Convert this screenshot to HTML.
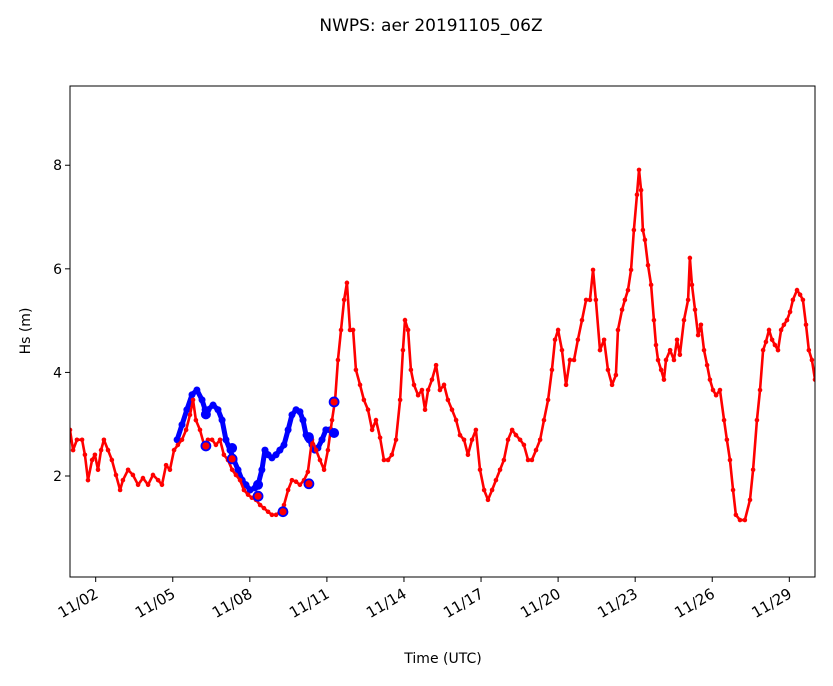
<!DOCTYPE html>
<html><head><meta charset="utf-8"><style>
body{margin:0;background:#fff;}
svg text{font-family:"DejaVu Sans","Liberation Sans",sans-serif;fill:#000;}
</style></head><body>
<svg id="chart" width="833" height="681">
<text x="431" y="31" font-size="17" text-anchor="middle">NWPS: aer 20191105_06Z</text>
<text x="443" y="663" font-size="14" text-anchor="middle">Time (UTC)</text>
<text transform="translate(30,331) rotate(-90)" font-size="14" text-anchor="middle">Hs (m)</text>
<g id="plot"></g>
</svg>
<script>
const modelDays=[0,.12,.27,.47,.58,.70,.86,.97,1.09,1.21,1.32,1.48,1.63,1.79,1.95,2.06,2.26,2.45,2.65,2.84,3.04,3.23,3.43,3.58,3.74,3.89,4.05,4.20,4.36,4.52,4.67,4.79,4.90,5.06,5.22,5.37,5.53,5.68,5.84,5.99,6.15,6.31,6.46,6.62,6.77,6.93,7.08,7.24,7.40,7.55,7.71,7.86,8.02,8.17,8.33,8.49,8.64,8.80,8.95,9.11,9.26,9.42,9.58,9.73,9.89,10.04,10.20,10.32,10.43,10.55,10.67,10.78,10.90,11.02,11.13,11.29,11.44,11.60,11.76,11.91,12.07,12.22,12.38,12.53,12.69,12.85,12.96,13.04,13.16,13.27,13.39,13.55,13.70,13.82,13.94,14.09,14.25,14.40,14.56,14.71,14.87,15.03,15.18,15.34,15.49,15.65,15.80,15.96,16.12,16.27,16.43,16.58,16.74,16.89,17.05,17.21,17.36,17.52,17.67,17.83,17.98,18.14,18.30,18.45,18.61,18.76,18.88,19.00,19.15,19.31,19.46,19.62,19.77,19.93,20.09,20.24,20.36,20.47,20.63,20.79,20.94,21.10,21.25,21.33,21.49,21.60,21.72,21.84,21.95,22.07,22.15,22.23,22.30,22.38,22.50,22.62,22.73,22.81,22.89,23.01,23.12,23.20,23.36,23.51,23.63,23.74,23.90,24.06,24.13,24.21,24.33,24.45,24.56,24.68,24.80,24.91,25.03,25.15,25.30,25.46,25.57,25.69,25.81,25.92,26.08,26.27,26.47,26.59,26.74,26.86,26.98,27.09,27.21,27.33,27.44,27.56,27.68,27.79,27.91,28.03,28.14,28.30,28.42,28.53,28.65,28.76,28.88,29.00];
const modelHs=[2.89,2.50,2.70,2.70,2.41,1.92,2.31,2.41,2.12,2.50,2.70,2.50,2.31,2.02,1.73,1.92,2.12,2.02,1.83,1.96,1.83,2.02,1.92,1.83,2.21,2.12,2.50,2.60,2.70,2.89,3.18,3.47,3.08,2.89,2.60,2.70,2.70,2.60,2.70,2.41,2.31,2.12,2.02,1.92,1.73,1.64,1.58,1.54,1.44,1.38,1.31,1.25,1.25,1.31,1.44,1.73,1.92,1.89,1.83,1.92,2.08,2.70,2.50,2.31,2.12,2.50,3.08,3.47,4.24,4.82,5.40,5.73,4.82,4.82,4.05,3.76,3.47,3.28,2.89,3.08,2.74,2.31,2.31,2.41,2.70,3.47,4.43,5.01,4.82,4.05,3.76,3.56,3.66,3.28,3.66,3.86,4.14,3.66,3.76,3.47,3.28,3.08,2.79,2.70,2.41,2.70,2.89,2.12,1.73,1.54,1.73,1.92,2.12,2.31,2.70,2.89,2.79,2.70,2.60,2.31,2.31,2.50,2.70,3.08,3.47,4.05,4.63,4.82,4.43,3.76,4.24,4.24,4.63,5.01,5.40,5.40,5.98,5.40,4.43,4.63,4.05,3.76,3.95,4.82,5.21,5.40,5.59,5.98,6.75,7.43,7.91,7.52,6.75,6.56,6.07,5.69,5.01,4.53,4.24,4.05,3.86,4.24,4.43,4.24,4.63,4.34,5.01,5.40,6.21,5.69,5.21,4.72,4.92,4.43,4.14,3.86,3.66,3.56,3.66,3.08,2.70,2.31,1.73,1.25,1.15,1.15,1.54,2.12,3.08,3.66,4.43,4.59,4.82,4.63,4.53,4.43,4.82,4.92,5.01,5.17,5.40,5.59,5.50,5.40,4.92,4.43,4.24,3.86];
const altDays=[4.17,4.36,4.55,4.75,4.94,5.14,5.26,5.37,5.57,5.76,5.92,6.07,6.23,6.38,6.54,6.70,6.85,7.01,7.20,7.32,7.47,7.59,7.71,7.86,8.02,8.17,8.33,8.49,8.64,8.80,8.95,9.07,9.19,9.30,9.42,9.53,9.65,9.81,9.96,10.12,10.28];
const altHs=[2.70,2.99,3.28,3.57,3.66,3.47,3.28,3.28,3.37,3.28,3.08,2.70,2.50,2.31,2.12,1.92,1.83,1.73,1.77,1.83,2.12,2.50,2.41,2.35,2.41,2.50,2.60,2.89,3.18,3.28,3.24,3.08,2.79,2.70,2.60,2.50,2.54,2.70,2.89,2.89,2.85];
const obsDays=[5.29,6.31,7.32,8.29,9.30,10.28];
const obsHs=[2.58,2.33,1.61,1.31,1.85,3.43];
const altObsDays=[5.29,6.31,7.32,9.30,10.28];
const altObsHs=[3.19,2.54,1.83,2.75,2.83];
const yTicks=[2,4,6,8];
const xTickDays=[1,4,7,10,13,16,19,22,25,28];
const xTickLabels=["11/02","11/05","11/08","11/11","11/14","11/17","11/20","11/23","11/26","11/29"];

const L=70,R=815,T=86,B=577, X0=0,X1=29, Y0=0.05,Y1=9.53;
const xs=d=>L+(d-X0)/(X1-X0)*(R-L);
const ys=v=>B-(v-Y0)/(Y1-Y0)*(B-T);
const NS="http://www.w3.org/2000/svg";
const g=document.getElementById('plot');
function mk(t,a){const e=document.createElementNS(NS,t);for(const k in a)e.setAttribute(k,a[k]);g.appendChild(e);return e;}
const clip=document.createElementNS(NS,'clipPath');clip.id='c';
const cr=document.createElementNS(NS,'rect');cr.setAttribute('x',L);cr.setAttribute('y',T);cr.setAttribute('width',R-L);cr.setAttribute('height',B-T);
clip.appendChild(cr);g.appendChild(clip);
const inner=mk('g',{'clip-path':'url(#c)'});


function series(days,vals,color,lw,r,name){
  const sg=document.createElementNS(NS,'g');inner.appendChild(sg);
  
  
  const pl=document.createElementNS(NS,'polyline');
  pl.setAttribute('points',days.map((d,i)=>xs(d)+','+ys(vals[i])).join(' '));
  pl.setAttribute('fill','none');pl.setAttribute('stroke',color);pl.setAttribute('stroke-width',lw);pl.setAttribute('stroke-linejoin','round');
  sg.appendChild(pl);
  days.forEach((d,i)=>{const c=document.createElementNS(NS,'circle');c.setAttribute('cx',xs(d));c.setAttribute('cy',ys(vals[i]));c.setAttribute('r',r);c.setAttribute('fill',color);
    
    
    sg.appendChild(c);});
}
series(altDays,altHs,'#0000ff',5,3.5,'alt-model-series');
series(modelDays,modelHs,'#ff0000',2.6,2.3,'model-series');
altObsDays.forEach((d,i)=>{const c=document.createElementNS(NS,'circle');c.setAttribute('cx',xs(d));c.setAttribute('cy',ys(altObsHs[i]));c.setAttribute('r',5);c.setAttribute('fill','#0000ff');
  
  
  inner.appendChild(c);});
obsDays.forEach((d,i)=>{const c=document.createElementNS(NS,'circle');c.setAttribute('cx',xs(d));c.setAttribute('cy',ys(obsHs[i]));c.setAttribute('r',4.5);c.setAttribute('fill','#ff0000');c.setAttribute('stroke','#0000ff');c.setAttribute('stroke-width',1.8);
  
  
  inner.appendChild(c);});
const frame=mk('rect',{x:L,y:T,width:R-L,height:B-T,fill:'none',stroke:'#000','stroke-width':1});


yTicks.forEach(v=>{const y=ys(v);
  const t=mk('line',{x1:L-5,x2:L,y1:y,y2:y,stroke:'#000'});
  
  
  const tx=mk('text',{x:L-8,y:y+5,'font-size':14,'text-anchor':'end'});tx.textContent=v;
  
  
});
xTickDays.forEach((d,i)=>{const x=xs(d);
  const t=mk('line',{x1:x,x2:x,y1:B,y2:B+5,stroke:'#000'});
  
  
  const tx=mk('text',{transform:`translate(${x-2},${B+10}) rotate(-30)`,'font-size':15,'text-anchor':'end'});tx.setAttribute('dy','0.75em');tx.textContent=xTickLabels[i];
  
  
});
</script>
</body></html>
